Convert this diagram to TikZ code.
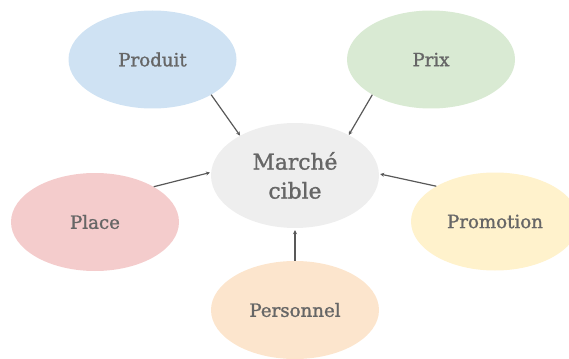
\documentclass[tikz,border=0pt]{standalone}
\usepackage{fontspec}
\setmainfont{DejaVu Serif}
\newfontfamily\slab{DejaVu Serif}[FakeBold=1.3]
\usetikzlibrary{shapes.geometric,arrows.meta}
\definecolor{txt}{HTML}{666666}
\definecolor{cprod}{HTML}{CFE2F3}
\definecolor{cprix}{HTML}{D9EAD3}
\definecolor{cplace}{HTML}{F4CCCC}
\definecolor{cpromo}{HTML}{FFF2CC}
\definecolor{cpers}{HTML}{FCE5CD}
\definecolor{ccent}{HTML}{EEEEEE}
\definecolor{cline}{HTML}{595959}
\tikzset{
  bubble/.style={ellipse, draw=none, minimum width=168pt, minimum height=98pt, inner sep=0pt, text=txt, font=\slab\fontsize{18.2}{21}\selectfont},
  centre/.style={ellipse, draw=none, fill=ccent, minimum width=168pt, minimum height=105pt, inner sep=0pt, text=txt, align=center, font=\slab\fontsize{21.8}{29}\selectfont},
  link/.style={draw=cline, line width=1.2pt, -{Stealth[length=4pt,width=4pt]}}
}
\begin{document}
\begin{tikzpicture}[x=1pt,y=-1pt]
\useasboundingbox (0,0) rectangle (569,358);
\begin{scope}
\clip (0,0) rectangle (569,358);
\node[centre] (mc) at (295,175.5) {Marché\\cible};
\node[bubble, fill=cprod] (prod) at (152.5,59.5) {Produit};
\node[bubble, fill=cprix] (prix) at (431,59.5) {Prix};
\node[bubble, fill=cplace] (place) at (95,222) {Place};
\node[bubble, fill=cpromo] (promo) at (495,221.5) {Promotion};
\node[bubble, fill=cpers] (pers) at (295,310) {Personnel};
\end{scope}
\draw[link] (prod.-31) -- (mc.144);
\draw[link] (prix.211) -- (mc.37);
\draw[link] (place.31) -- ([xshift=-1pt]mc.178);
\draw[link] (promo.149) -- ([xshift=1pt]mc.1.5);
\draw[link, shorten >=2pt] (pers.north) -- (mc.south);
\end{tikzpicture}
\end{document}
